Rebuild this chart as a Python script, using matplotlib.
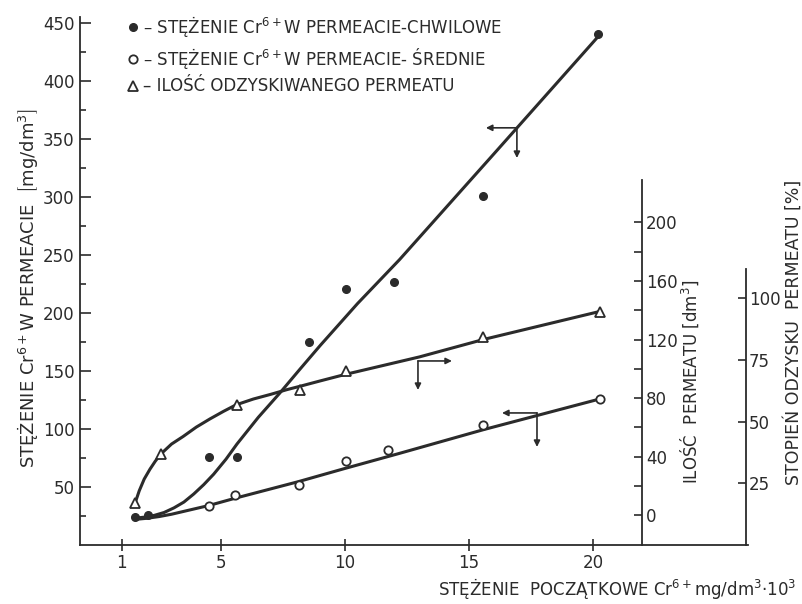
import matplotlib
matplotlib.use("Agg")
import matplotlib.pyplot as plt
from matplotlib.ticker import FixedLocator

plt.rcParams['font.family'] = ['DejaVu Sans']
plt.rcParams['mathtext.fontset'] = 'dejavusans'

INK = '#2b2b2b'

# Cr6+ in permeate - instantaneous (filled dots), mg/dm3
x_chw = [1.53, 2.05, 4.51, 5.64, 8.55, 10.04, 11.97, 15.56, 20.2]
y_chw = [24, 26, 76, 76, 175, 221, 227, 301, 440]
# hand-drawn curve through them
cx_chw = [1.5, 1.9, 2.3, 2.7, 3.1, 3.5, 3.9, 4.3, 4.7, 5.2, 5.64, 6.5, 7.37,
          8.2, 9.0, 10.5, 12.2, 16.0, 20.2]
cy_chw = [23, 24, 25.5, 28, 32, 37, 44, 52, 61, 74, 87, 110, 131,
          152, 172, 208, 246, 337, 438]

# Cr6+ in permeate - mean (open circles), mg/dm3
x_sr = [4.51, 5.58, 8.14, 10.03, 11.74, 15.56, 20.28]
y_sr = [33.6, 43, 52, 72.4, 82, 103, 126]
cx_sr = [1.5, 2.0, 2.5, 3.0, 3.5, 4.0, 4.5, 5.6, 8.1, 10.0, 12.2, 15.6, 20.3]
cy_sr = [22, 23, 24.5, 26.5, 29, 31.5, 34, 40.5, 54.5, 66, 79, 99.5, 126]

# recovered permeate volume (triangles), dm3
x_vol = [1.53, 2.57, 5.64, 8.18, 10.03, 15.56, 20.28]
y_vol = [8, 42, 75, 85.5, 98.5, 121.5, 139]
cx_vol = [1.53, 1.7, 1.9, 2.13, 2.35, 2.57, 3.0, 3.47, 4.0, 4.55, 5.1, 5.6,
          6.3, 7.0, 7.65, 8.2, 9.0, 10.0, 13.0, 15.6, 20.3]
cy_vol = [8.1, 16.6, 24.6, 31.3, 36.9, 41.7, 48.5, 53.7, 60.1, 65.7, 70.9, 75.3,
          79.3, 82.5, 85.7, 88.1, 91.7, 96.1, 108.1, 120.1, 139.3]

# axis-pointer arrows (origin on curve, tips), in left-axis units
arrows = [
    ((16.93, 359.5), (15.68, 359.5), (16.93, 333.5)),
    ((12.94, 158.6), (14.31, 158.6), (12.94, 133.6)),
    ((17.74, 113.8), (16.33, 113.8), (17.74, 84.5)),
]

fig = plt.figure(figsize=(8.03, 6.04), dpi=100)
W, H = 803, 604
ax = fig.add_axes([80 / W, (H - 545) / H, 668 / W, (545 - 17) / H])
ax.set_xlim(-0.69, 26.25)
ax.set_ylim(0, 455)

ax2 = ax.twinx()
ax2.set_ylim(-20.5, 340.5)
ax3 = ax.twinx()
ax3.set_ylim(0, 214)

for a in (ax, ax2, ax3):
    a.patch.set_visible(False)
    for s in a.spines.values():
        s.set_color(INK)
        s.set_linewidth(1.3)

ax.spines['top'].set_visible(False)
ax.spines['right'].set_visible(False)
for a in (ax2, ax3):
    a.spines['top'].set_visible(False)
    a.spines['left'].set_visible(False)
    a.spines['bottom'].set_visible(False)

ax2.spines['right'].set_position(('axes', 0.841))
ax2.spines['right'].set_bounds(-20.5, 229)
ax3.spines['right'].set_position(('axes', 0.997))
ax3.spines['right'].set_bounds(0, 112)

# left axis ticks
ax.yaxis.set_major_locator(FixedLocator([50, 100, 150, 200, 250, 300, 350, 400, 450]))
ax.yaxis.set_minor_locator(FixedLocator([25, 75, 125, 175, 225, 275, 325, 375, 425]))
ax.tick_params(axis='y', which='major', direction='in', length=8, width=1.2,
               color=INK, labelsize=12, labelcolor=INK, pad=4)
ax.tick_params(axis='y', which='minor', direction='in', length=4, width=1.2, color=INK)
ax.set_xticks([1, 5, 10, 15, 20])
ax.tick_params(axis='x', direction='inout', length=9, width=1.2, color=INK,
               labelsize=12, labelcolor=INK, pad=2)

ax2.yaxis.set_major_locator(FixedLocator([0, 40, 80, 120, 160, 200]))
ax2.yaxis.set_minor_locator(FixedLocator([20, 60, 100, 140, 180]))
ax2.tick_params(axis='y', which='both', direction='in', length=6, width=1.2,
                color=INK, labelsize=12, labelcolor=INK, pad=3)

ax3.yaxis.set_major_locator(FixedLocator([25, 50, 75, 100]))
ax3.tick_params(axis='y', which='major', direction='in', length=6, width=1.2,
                color=INK, labelsize=12, labelcolor=INK, pad=2)

# curves
ax.plot(cx_chw, cy_chw, color=INK, lw=2.2, solid_capstyle='round', solid_joinstyle='round')
ax.plot(cx_sr, cy_sr, color=INK, lw=2.2, solid_capstyle='round', solid_joinstyle='round')
ax2.plot(cx_vol, cy_vol, color=INK, lw=2.2, solid_capstyle='round', solid_joinstyle='round')

h1, = ax.plot(x_chw, y_chw, 'o', ms=5.5, color=INK, ls='none')
h2, = ax.plot(x_sr, y_sr, 'o', ms=6, mfc='white', mec=INK, mew=1.3, ls='none')
h3, = ax2.plot(x_vol, y_vol, '^', ms=6.5, mfc='white', mec=INK, mew=1.3, ls='none')

for (o, th, tv) in arrows:
    for tip in (th, tv):
        ax.annotate('', xy=tip, xytext=o,
                    arrowprops=dict(arrowstyle='-|>', color=INK, lw=1.2,
                                    mutation_scale=9, shrinkA=0, shrinkB=0))

leg = fig.legend([h1, h2, h3],
                 ['– STĘŻENIE Cr$^{6+}$W PERMEACIE-CHWILOWE',
                  '– STĘŻENIE Cr$^{6+}$W PERMEACIE- ŚREDNIE',
                  '– ILOŚĆ ODZYSKIWANEGO PERMEATU'],
                 loc='upper left', bbox_to_anchor=(128 / W, 1 - 14 / H),
                 frameon=False, handlelength=0.6, handletextpad=0.3,
                 labelspacing=0.4, fontsize=12, borderpad=0, borderaxespad=0)
for t in leg.get_texts():
    t.set_color(INK)

fig.text(28 / W, 1 - 288 / H, 'STĘŻENIE Cr$^{6+}$W PERMEACIE  $\\left[\\mathrm{mg/dm^3}\\right]$',
         rotation=90, ha='center', va='center', fontsize=13, color=INK)
fig.text(690 / W, 1 - 382 / H, 'ILOŚĆ  PERMEATU [dm$^3$]',
         rotation=90, ha='center', va='center', fontsize=12, color=INK)
fig.text(793 / W, 1 - 332 / H, 'STOPIEŃ ODZYSKU  PERMEATU [%]',
         rotation=90, ha='center', va='center', fontsize=12.5, color=INK)
fig.text(438 / W, 1 - 595 / H, 'STĘŻENIE  POCZĄTKOWE Cr$^{6+}$mg/dm$^3$·10$^3$',
         ha='left', va='baseline', fontsize=12, color=INK)

fig.savefig('out.png', dpi=100, facecolor='white')
